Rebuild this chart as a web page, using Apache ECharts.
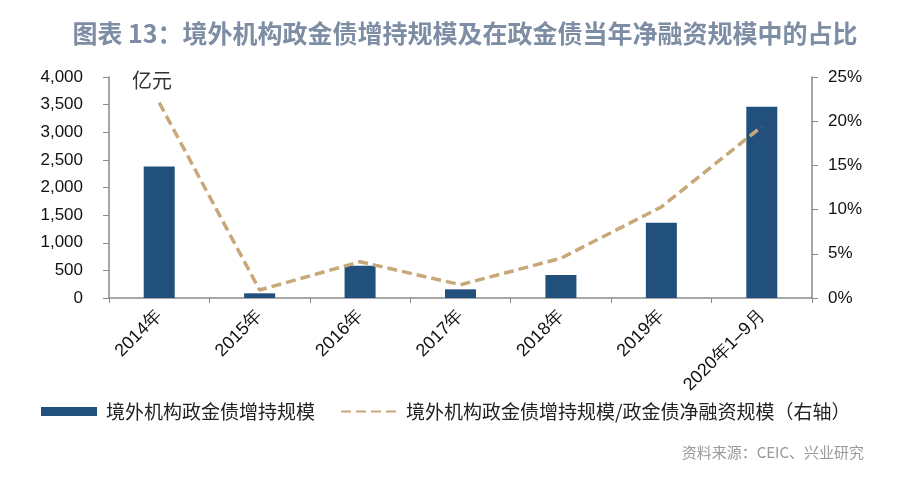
<!DOCTYPE html>
<html><head><meta charset="utf-8">
<script src="https://cdn.jsdelivr.net/npm/echarts@6/dist/echarts.min.js"></script>
<style>html,body{margin:0;padding:0;background:#fff}#c{width:900px;height:480px}</style>
</head><body><div id="c"></div>
<script>
const categories = ['2014年','2015年','2016年','2017年','2018年','2019年','2020年1–9月'];
const holdingsIncrease = [2380, 85, 585, 157, 416, 1363, 3462];
const shareOfNetFinancing = [22.1, 0.9, 4.1, 1.5, 4.5, 10.3, 19.4];
const leftTicks = {min: 0, max: 4000, interval: 500};
const rightTicks = {min: 0, max: 25, interval: 5};
const barName = '境外机构政金债增持规模';
const lineName = '境外机构政金债增持规模/政金债净融资规模（右轴）';

const chart = echarts.init(document.getElementById('c'), null, {renderer: 'canvas'});
const axisGray = '#8a8a8a';
const numFont = '"Liberation Sans", Arial, sans-serif';
const cjk = '"Noto Sans CJK SC", sans-serif';
chart.setOption({
  animation: false,
  backgroundColor: '#fff',
  title: [{
    text: '图表 13：境外机构政金债增持规模及在政金债当年净融资规模中的占比',
    left: 460, top: 16, textAlign: 'center',
    textStyle: {fontFamily: cjk, fontSize: 25, fontWeight: 'bold', color: '#7d8da4'}
  }, {
    text: '资料来源：CEIC、兴业研究',
    right: 31, top: 440,
    textStyle: {fontFamily: cjk, fontSize: 15, fontWeight: 'normal', color: '#999999'}
  }, {
    text: '亿元',
    left: 127, top: 65,
    textStyle: {fontFamily: cjk, fontSize: 20, fontWeight: 'normal', color: '#333333'}
  }],
  grid: {left: 109, right: 88, top: 77, bottom: 182, containLabel: false},
  legend: {
    left: 36, top: 397,
    itemWidth: 56, itemHeight: 9, itemGap: 25,
    textStyle: {fontFamily: cjk, fontSize: 19, color: '#222', padding: [0, 0, 0, 4]},
    data: [{name: barName, icon: 'rect'}, {name: lineName, itemStyle: {opacity: 0}}]
  },
  xAxis: {
    type: 'category', data: categories, boundaryGap: true,
    axisLine: {lineStyle: {color: axisGray, width: 1.5}},
    axisTick: {show: true, length: 5, lineStyle: {color: axisGray}},
    axisLabel: {rotate: 45, interval: 0, margin: 15, fontFamily: numFont, fontSize: 18, color: '#111'}
  },
  yAxis: [{
    type: 'value', min: leftTicks.min, max: leftTicks.max, interval: leftTicks.interval,
    splitLine: {show: false},
    axisLine: {show: true, lineStyle: {color: axisGray, width: 1.5}},
    axisTick: {show: true, length: 6, lineStyle: {color: axisGray}},
    axisLabel: {margin: 26, fontFamily: numFont, fontSize: 17, color: '#111',
      formatter: v => v.toLocaleString('en-US')}
  }, {
    type: 'value', min: rightTicks.min, max: rightTicks.max, interval: rightTicks.interval,
    position: 'right',
    splitLine: {show: false},
    axisLine: {show: true, lineStyle: {color: axisGray, width: 1.5}},
    axisTick: {show: true, length: 6, lineStyle: {color: axisGray}},
    axisLabel: {margin: 16, fontFamily: numFont, fontSize: 17, color: '#111', formatter: v => v + '%'}
  }],
  series: [{
    name: barName, type: 'bar', data: holdingsIncrease, barWidth: 31,
    itemStyle: {color: '#22507d'}
  }, {
    name: lineName, type: 'line', yAxisIndex: 1, data: shareOfNetFinancing,
    symbol: 'none',
    lineStyle: {color: '#c8a878', width: 3.5, type: [10, 5]},
    itemStyle: {color: '#c8a878'}
  }]
});
</script></body></html>
